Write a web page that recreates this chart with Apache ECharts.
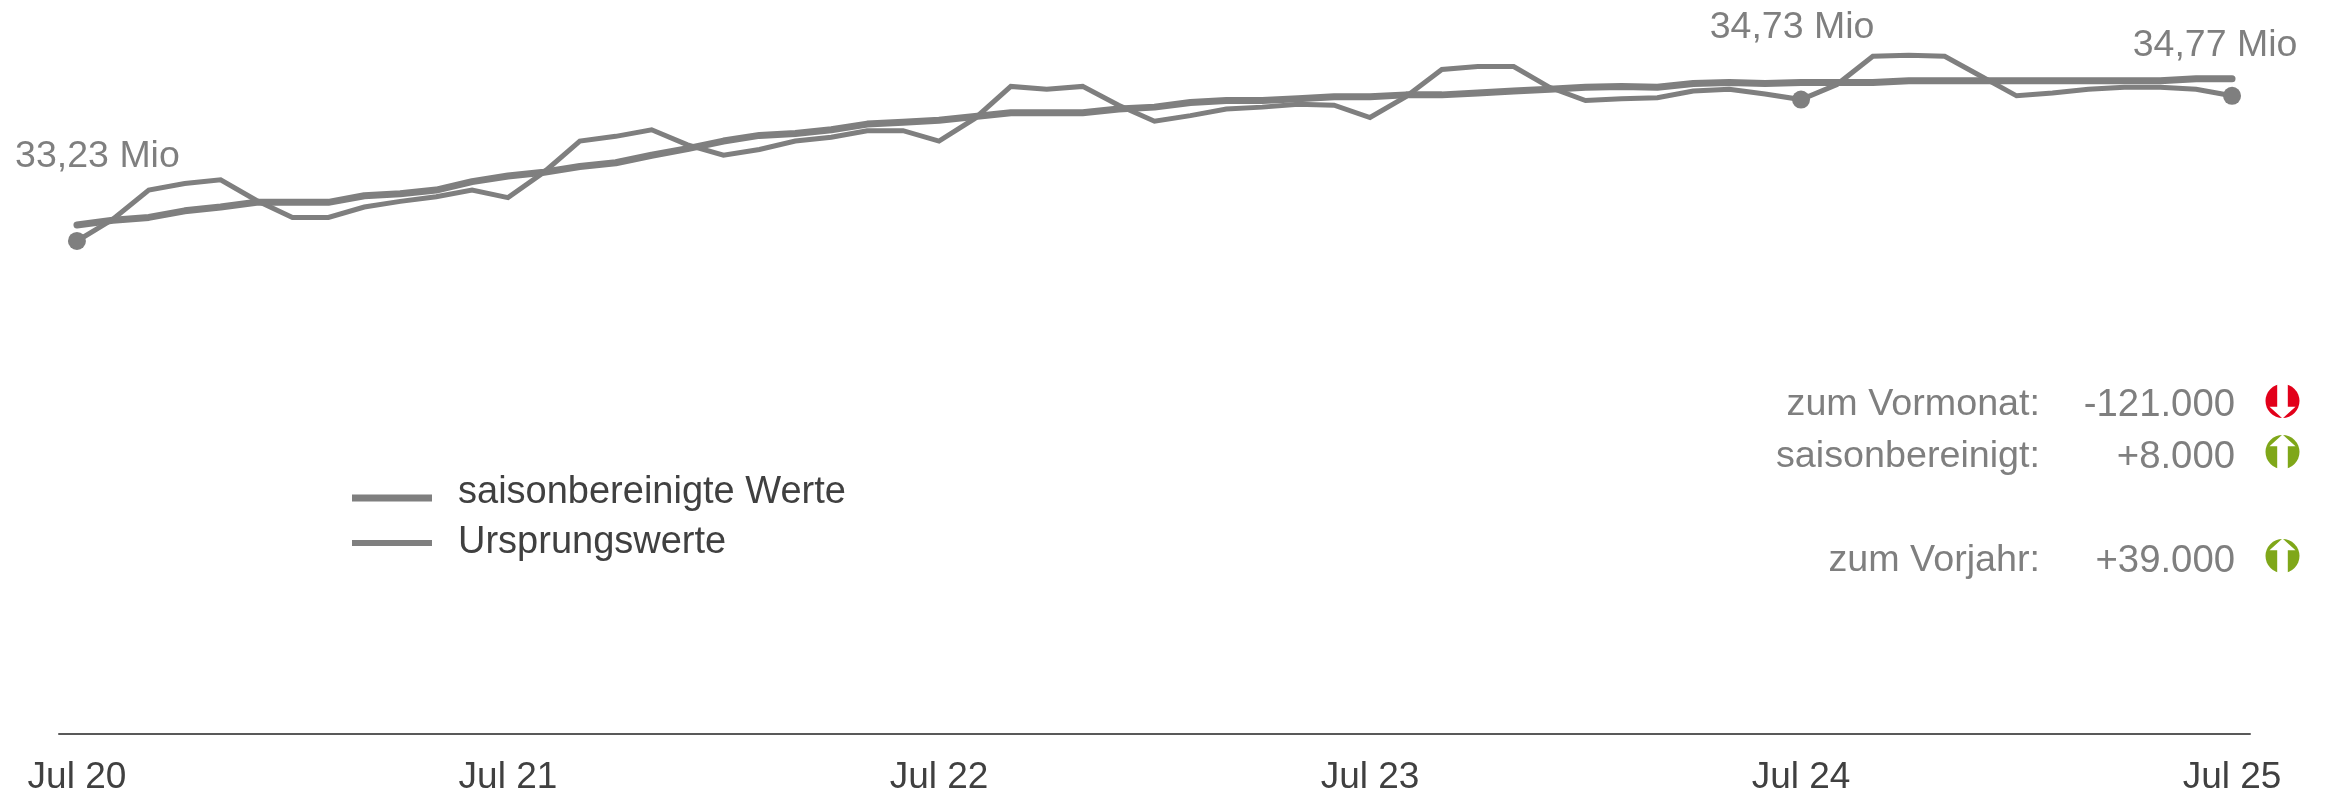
<!DOCTYPE html>
<html>
<head>
<meta charset="utf-8">
<style>html,body{margin:0;padding:0;background:#fff}#c{width:2325px;height:795px}</style>
<script src="https://cdn.jsdelivr.net/npm/echarts@6/dist/echarts.min.js"></script>
</head>
<body>
<div id="c"></div>
<script>
const months = [
 "Jul 20","Aug 20","Sep 20","Okt 20","Nov 20","Dez 20","Jan 21","Feb 21","Mär 21","Apr 21","Mai 21","Jun 21",
 "Jul 21","Aug 21","Sep 21","Okt 21","Nov 21","Dez 21","Jan 22","Feb 22","Mär 22","Apr 22","Mai 22","Jun 22",
 "Jul 22","Aug 22","Sep 22","Okt 22","Nov 22","Dez 22","Jan 23","Feb 23","Mär 23","Apr 23","Mai 23","Jun 23",
 "Jul 23","Aug 23","Sep 23","Okt 23","Nov 23","Dez 23","Jan 24","Feb 24","Mär 24","Apr 24","Mai 24","Jun 24",
 "Jul 24","Aug 24","Sep 24","Okt 24","Nov 24","Dez 24","Jan 25","Feb 25","Mär 25","Apr 25","Mai 25","Jun 25",
 "Jul 25"];
const ursprungswerte = [
 33.23,33.46,33.77,33.84,33.88,33.66,33.48,33.48,33.59,33.65,33.70,33.77,
 33.69,33.96,34.29,34.34,34.41,34.25,34.14,34.20,34.29,34.33,34.40,34.40,
 34.29,34.53,34.87,34.84,34.87,34.67,34.50,34.56,34.63,34.65,34.68,34.67,
 34.54,34.76,35.05,35.08,35.08,34.86,34.72,34.74,34.75,34.82,34.84,34.79,
 34.73,34.89,35.19,35.20,35.19,34.98,34.77,34.80,34.84,34.86,34.86,34.84,
 34.77];
const saisonbereinigt = [
 33.40,33.45,33.48,33.55,33.59,33.64,33.64,33.64,33.71,33.73,33.77,33.86,
 33.92,33.96,34.02,34.06,34.14,34.21,34.29,34.35,34.37,34.41,34.47,34.49,
 34.51,34.55,34.59,34.59,34.59,34.63,34.65,34.70,34.72,34.72,34.74,34.76,
 34.76,34.78,34.78,34.80,34.82,34.84,34.86,34.87,34.86,34.90,34.91,34.90,
 34.91,34.91,34.91,34.93,34.93,34.93,34.93,34.93,34.93,34.93,34.93,34.95,
 34.95];
const callouts = {0:"33,23 Mio", 48:"34,73 Mio", 60:"34,77 Mio"};
const calloutOffsets = {0:[20.5,-84], 48:[-9,-72], 60:[-17,-50]};
const summaryLabels = ["zum Vormonat:","saisonbereinigt:","zum Vorjahr:"];
const summaryValues = ["-121.000","+8.000","+39.000"];
const summaryUp = [false,true,true];

const FONT = '"Liberation Sans", Arial, sans-serif';
const GREY = '#7f7f7f', DARK = '#404040', RED = '#e2001a', GREEN = '#7fa719';
const rowY = [405, 457, 561];
const iconY = [401, 452, 556];

const graphic = [];
summaryLabels.forEach((t,i)=>{
  graphic.push({type:'text',silent:true,style:{text:t,x:2040,y:rowY[i],textAlign:'right',textVerticalAlign:'middle',font:'37.7px '+FONT,fill:GREY}});
  graphic.push({type:'text',silent:true,style:{text:summaryValues[i],x:2235,y:rowY[i],textAlign:'right',textVerticalAlign:'middle',font:'38.3px '+FONT,fill:GREY}});
  const cy = iconY[i], cx = 2282.5, s = summaryUp[i] ? -1 : 1;
  graphic.push({type:'circle',silent:true,shape:{cx,cy,r:17},style:{fill:summaryUp[i]?GREEN:RED}});
  graphic.push({type:'polygon',silent:true,shape:{points:[
    [cx-5.3,cy-18*s],[cx+5.3,cy-18*s],[cx+5.3,cy+5.7*s],[cx+13,cy+5.7*s],[cx,cy+17.5*s],[cx-13,cy+5.7*s],[cx-5.3,cy+5.7*s]
  ]},style:{fill:'#fff'}});
});

const thinData = ursprungswerte.map((v,i)=> callouts[i] ? {
  value:v,
  label:{show:true,formatter:callouts[i],position:'inside',offset:calloutOffsets[i],color:GREY,fontSize:37.5,fontFamily:FONT}
} : v);

const legendText = {color:DARK,fontSize:38,fontFamily:FONT,lineHeight:38,padding:[0,0,0,21]};

const chart = echarts.init(document.getElementById('c'),null,{renderer:'canvas'});
chart.setOption({
  animation:false,
  backgroundColor:'#fff',
  grid:{left:59,top:27,width:2191,height:707,outerBoundsMode:'none',containLabel:false},
  xAxis:{type:'category',data:months,boundaryGap:true,
    axisLine:{show:true,lineStyle:{color:'#595959',width:2}},
    axisTick:{show:false},
    axisLabel:{interval:11,color:DARK,fontSize:37,fontFamily:FONT,margin:25,hideOverlap:false,showMaxLabel:true,
      formatter:v=>v}},
  yAxis:{type:'value',min:28,max:35.5,show:false,splitLine:{show:false}},
  legend:[
   {orient:'vertical',left:347,top:469,itemWidth:80,itemHeight:17,selectedMode:false,
    data:[{name:'saisonbereinigte Werte',icon:'path://M0 0h80v0.01h-80z M0 10h80v7h-80z'}],
    itemStyle:{color:GREY},textStyle:legendText},
   {orient:'vertical',left:347,top:519,itemWidth:80,itemHeight:6,selectedMode:false,
    data:[{name:'Ursprungswerte',icon:'rect'}],
    itemStyle:{color:GREY},textStyle:legendText}
  ],
  graphic,
  series:[
    {name:'Ursprungswerte',type:'line',data:thinData,color:GREY,
     showSymbol:true,showAllSymbol:true,symbol:'circle',
     symbolSize:(v,p)=>callouts[p.dataIndex]?18:0,
     itemStyle:{color:GREY},
     lineStyle:{color:GREY,width:5,join:'miter'},emphasis:{disabled:true}},
    {name:'saisonbereinigte Werte',type:'line',data:saisonbereinigt,color:GREY,
     showSymbol:false,
     lineStyle:{color:GREY,width:7,cap:'round'},emphasis:{disabled:true}}
  ]
});
</script>
</body>
</html>
